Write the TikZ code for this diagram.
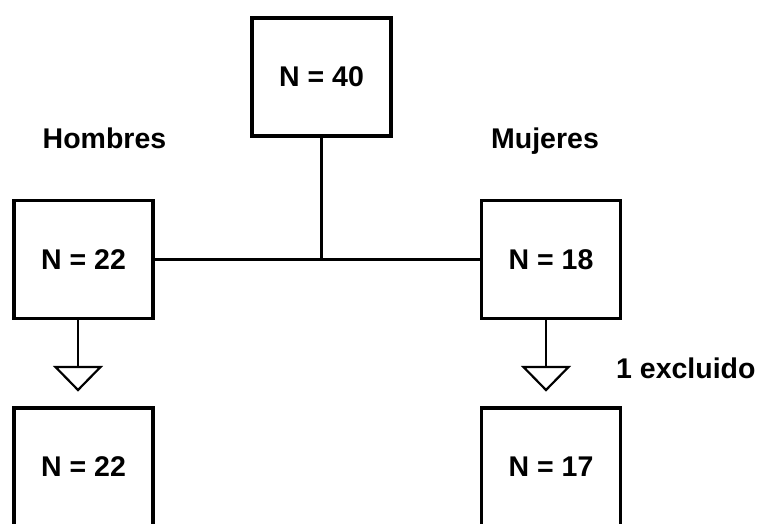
\documentclass[tikz,border=0pt]{standalone}
\usepackage{fontspec}
\setmainfont{Liberation Sans}
\begin{document}
\begin{tikzpicture}[x=1pt,y=-1pt,
  box/.style={draw=black,line width=3.6pt,minimum width=139pt,minimum height=118pt,inner sep=0pt,font=\fontsize{28.5}{31}\selectfont\bfseries},
  lbl/.style={font=\fontsize{28.5}{31}\selectfont\bfseries,inner sep=0pt,anchor=base},
  link/.style={line width=2.6pt},
  tri/.style={line width=2.2pt,line join=miter}]
\clip (0,0) rectangle (761,524);
\fill[white] (0,0) rectangle (761,524);
\node[box] (top) at (321.5,77) {N = 40};
\node[box] (lm) at (83.5,259.5) {N = 22};
\node[box] (lw) at (551,259.5) {N = 18};
\node[box] (bm) at (83.5,467) {N = 22};
\node[box] (bw) at (551,467) {N = 17};
\node[lbl] (hom) at (104.5,149) {Hombres};
\node[lbl] (muj) at (545,149) {Mujeres};
\node[lbl,anchor=base west] (exc) at (616,378) {1 excluido};
\coordinate (j) at (top.south |- lm.east);
\draw[link] (top.south) -- (j);
\draw[link] (lm.east) -- (lw.west);
\coordinate (tm) at (78,367);
\coordinate (tw) at (546,367);
\draw[link] (lm.south -| tm) -- (tm);
\draw[link] (lw.south -| tw) -- (tw);
\draw[tri] ([xshift=-22.5pt]tm) -- ([xshift=22.5pt]tm) -- ([yshift=-23pt]tm) -- cycle;
\draw[tri] ([xshift=-22.5pt]tw) -- ([xshift=22.5pt]tw) -- ([yshift=-23pt]tw) -- cycle;
\end{tikzpicture}
\end{document}
